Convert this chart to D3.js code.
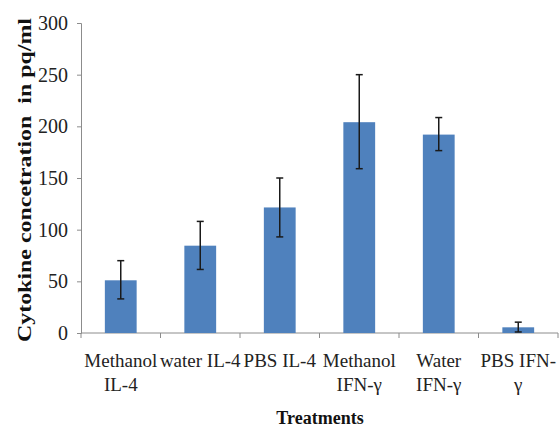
<!DOCTYPE html>
<html>
<head>
<meta charset="utf-8">
<script src="https://cdn.jsdelivr.net/npm/d3@7"></script>
<style>
  body { margin: 0; background: #fff; }
  svg text { font-family: "Liberation Serif", "Times New Roman", serif; }
</style>
</head>
<body>
<svg id="chart" width="559" height="428"></svg>
<script>
// data
var categories = ["Methanol IL-4", "water IL-4", "PBS IL-4", "Methanol IFN-γ", "Water IFN-γ", "PBS IFN-γ"];
var catLines = [["Methanol", "IL-4"], ["water IL-4"], ["PBS IL-4"], ["Methanol", "IFN-γ"], ["Water", "IFN-γ"], ["PBS IFN-", "γ"]];
var values = [51, 84.5, 121.5, 204, 192, 5.5];
var errLow = [33, 61.5, 93, 159, 176.5, 1];
var errHigh = [70, 108, 150, 250, 208.5, 10.5];
var yTicks = [0, 50, 100, 150, 200, 250, 300];

var svg = d3.select("#chart");
var plotL = 81, plotR = 558, plotT = 23, plotB = 333;

var x = d3.scaleBand().domain(categories).range([plotL, plotR]).paddingInner(0.6).paddingOuter(0.3);
var y = d3.scaleLinear().domain([0, 300]).range([plotB, plotT]);

// y axis
var yAxis = svg.append("g").attr("transform", "translate(" + plotL + ",0)")
  .call(d3.axisLeft(y).tickValues(yTicks).tickSize(4).tickPadding(9));
yAxis.attr("font-family", null).attr("font-size", null);
yAxis.select(".domain").attr("stroke", "#8c8c8c");
yAxis.selectAll(".tick line").attr("stroke", "#8c8c8c");
yAxis.selectAll(".tick text").style("font-size", "20px").style("fill", "#222")
  .style("font-family", "'Liberation Serif', serif");

// x axis baseline with category dividers
var edges = d3.range(categories.length + 1).map(function(i) { return plotL + i * (plotR - plotL) / categories.length; });
svg.append("line").attr("x1", plotL).attr("x2", plotR).attr("y1", plotB).attr("y2", plotB)
  .attr("stroke", "#8c8c8c");
svg.selectAll("line.div").data(edges).enter().append("line").attr("class", "div")
  .attr("x1", function(d) { return d; }).attr("x2", function(d) { return d; })
  .attr("y1", plotB).attr("y2", plotB + 5).attr("stroke", "#8c8c8c");

// bars
svg.selectAll("rect.bar").data(categories).enter().append("rect").attr("class", "bar")
  .attr("x", function(d) { return x(d); })
  .attr("width", x.bandwidth())
  .attr("y", function(d, i) { return y(values[i]); })
  .attr("height", function(d, i) { return y(0) - y(values[i]); })
  .attr("fill", "#4f81bd");

// error bars
var eb = svg.selectAll("g.err").data(categories).enter().append("g").attr("class", "err")
  .attr("stroke", "#1a1a1a").attr("stroke-width", 1.5);
eb.append("line")
  .attr("x1", function(d) { return x(d) + x.bandwidth() / 2; })
  .attr("x2", function(d) { return x(d) + x.bandwidth() / 2; })
  .attr("y1", function(d, i) { return y(errLow[i]); })
  .attr("y2", function(d, i) { return y(errHigh[i]); });
[errLow, errHigh].forEach(function(arr) {
  eb.append("line")
    .attr("x1", function(d) { return x(d) + x.bandwidth() / 2 - 3.5; })
    .attr("x2", function(d) { return x(d) + x.bandwidth() / 2 + 3.5; })
    .attr("y1", function(d, i) { return y(arr[i]); })
    .attr("y2", function(d, i) { return y(arr[i]); });
});

// category labels
var lab = svg.selectAll("text.cat").data(categories).enter().append("text").attr("class", "cat")
  .attr("text-anchor", "middle").style("font-size", "19px").style("fill", "#222")
  .attr("transform", function(d) { return "translate(" + (x(d) + x.bandwidth() / 2) + ",367)"; });
lab.selectAll("tspan").data(function(d, i) { return catLines[i]; }).enter().append("tspan")
  .attr("x", 0).attr("dy", function(d, i) { return i ? 24 : 0; })
  .text(function(d) { return d; });

// axis titles
svg.append("text").attr("x", 320).attr("y", 424).attr("text-anchor", "middle")
  .style("font-size", "18px").style("font-weight", "bold").style("fill", "#111").text("Treatments");
svg.append("text").attr("transform", "translate(31,180) rotate(-90)").attr("text-anchor", "middle")
  .style("font-size", "19px").style("font-weight", "bold").style("fill", "#111")
  .attr("textLength", 324).attr("lengthAdjust", "spacingAndGlyphs")
  .attr("xml:space", "preserve").text("Cytokine concetration  in pq/ml");
</script>
</body>
</html>
